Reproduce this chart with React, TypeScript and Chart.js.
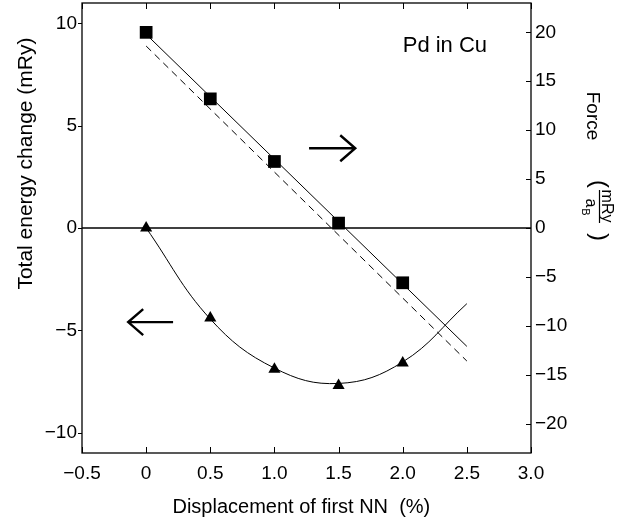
import React, { useEffect, useRef } from 'react';
import { Chart, registerables } from 'chart.js';

Chart.register(...registerables);

// ---- data ----
const displacement = [0, 0.5, 1.0, 1.5, 2.0];
const energy = [0, -4.4, -6.9, -7.7, -6.6];
const force = [20.0, 13.2, 6.8, 0.5, -5.6];

const energyCurveX = [0, 0.5, 1.0, 1.5, 2.0, 2.5];
const energyCurveY = [0, -4.45, -6.85, -7.6, -6.55, -3.7];

const forceFitX = [0, 2.5];
const forceFitSolid = [19.8, -12.1];
const forceFitDashed = [18.6, -13.6];

const xTicks = [-0.5, 0, 0.5, 1.0, 1.5, 2.0, 2.5, 3.0];
const energyTicks = [-10, -5, 0, 5, 10];
const forceTicks = [-20, -15, -10, -5, 0, 5, 10, 15, 20];

const xRange = [-0.5, 3.0];
const energyRange = [-11, 11];
const forceRange = [-23, 23];

// annotation anchors in data units (x, x, energy)
const arrowRight = [1.27, 1.63, 3.9];
const arrowLeft = [0.21, -0.14, -4.6];
const annotationText = 'Pd in Cu';
const annotationPos = [2.0, 8.9];

const xTitle = 'Displacement of first NN  (%)';
const yTitle = 'Total energy change (mRy)';
const yTitleCenter = 3.15; // energy value at the title's centre

const FONT = '"Liberation Sans", Arial, Helvetica, sans-serif';

const fmt = (v: number, dec: boolean) => {
  const s = v === 0 ? '0' : dec ? v.toFixed(1) : String(v);
  return s.replace('-', '\u2212');
};

const pts = (xs: number[], ys: number[]) => xs.map((x, i) => ({ x, y: ys[i] }));

const framePlugin = {
  id: 'frame',
  beforeDatasetsDraw(chart: any) {
    const { ctx, chartArea, scales } = chart;
    const { left, right, top, bottom } = chartArea;
    ctx.save();
    ctx.strokeStyle = '#000';
    ctx.lineWidth = 1.3;
    ctx.strokeRect(left, top, right - left, bottom - top);
    ctx.lineWidth = 1;
    ctx.beginPath();
    for (const v of xTicks) {
      const px = Math.round(scales.x.getPixelForValue(v)) + 0.5;
      ctx.moveTo(px, bottom);
      ctx.lineTo(px, bottom - 6);
      ctx.moveTo(px, top);
      ctx.lineTo(px, top + 6);
    }
    for (const v of energyTicks) {
      const py = Math.round(scales.y.getPixelForValue(v)) + 0.5;
      ctx.moveTo(left - 4, py);
      ctx.lineTo(left, py);
    }
    for (const v of forceTicks) {
      const py = Math.round(scales.y1.getPixelForValue(v)) + 0.5;
      ctx.moveTo(right - 5, py);
      ctx.lineTo(right, py);
    }
    ctx.stroke();
    // zero line
    const p0 = scales.y.getPixelForValue(0);
    ctx.lineWidth = 1.5;
    ctx.beginPath();
    ctx.moveTo(left, p0);
    ctx.lineTo(right, p0);
    ctx.stroke();
    ctx.restore();
  },
  afterDatasetsDraw(chart: any) {
    const { ctx, scales, chartArea } = chart;
    const x = scales.x;
    const y = scales.y;
    ctx.save();
    ctx.strokeStyle = '#000';
    ctx.fillStyle = '#000';
    ctx.lineWidth = 2.4;
    ctx.lineCap = 'butt';
    const drawArrow = (a: number[]) => {
      const x1 = x.getPixelForValue(a[0]);
      const x2 = x.getPixelForValue(a[1]);
      const py = y.getPixelForValue(a[2]);
      const dir = x2 > x1 ? 1 : -1;
      ctx.beginPath();
      ctx.moveTo(x1, py);
      ctx.lineTo(x2, py);
      ctx.moveTo(x2 - dir * 15, py - 13);
      ctx.lineTo(x2, py);
      ctx.lineTo(x2 - dir * 15, py + 13);
      ctx.stroke();
    };
    drawArrow(arrowRight);
    drawArrow(arrowLeft);

    ctx.font = `22px ${FONT}`;
    ctx.textAlign = 'left';
    ctx.textBaseline = 'middle';
    ctx.fillText(annotationText, x.getPixelForValue(annotationPos[0]), y.getPixelForValue(annotationPos[1]));

    const rot = (t: string, cx: number, cy: number, size: number, ang: number) => {
      ctx.save();
      ctx.translate(cx, cy);
      ctx.rotate(ang);
      ctx.font = `${size}px ${FONT}`;
      ctx.textAlign = 'center';
      ctx.textBaseline = 'middle';
      ctx.fillText(t, 0, 0);
      ctx.restore();
    };
    // left axis title
    rot(yTitle, chartArea.left - 56, y.getPixelForValue(yTitleCenter), 21, -Math.PI / 2);
    // x axis title
    ctx.font = `20px ${FONT}`;
    ctx.textAlign = 'center';
    ctx.textBaseline = 'middle';
    ctx.fillText(xTitle, x.getPixelForValue(1.21), chartArea.bottom + 54);

    // right axis title, rotated clockwise
    const ax = chartArea.right;
    const cw = Math.PI / 2;
    rot('Force', ax + 61, 116, 19, cw);
    rot('(', ax + 68, 184, 24, cw);
    rot(')', ax + 68, 237, 24, cw);
    rot('mRy', ax + 75, 206, 16, cw);
    rot('a', ax + 59, 203, 16, cw);
    rot('B', ax + 54, 212, 11, cw);
    ctx.lineWidth = 1.2;
    ctx.beginPath();
    ctx.moveTo(ax + 68.5, 190);
    ctx.lineTo(ax + 68.5, 223);
    ctx.stroke();
    ctx.restore();
  },
};

export default function App() {
  const ref = useRef<HTMLCanvasElement | null>(null);
  useEffect(() => {
    document.body.style.margin = '0';
    const canvas = ref.current!;
    const tickFont = { family: FONT, size: 19 };
    const chart = new Chart(canvas, {
      type: 'line',
      data: {
        datasets: [
          {
            label: 'energy points',
            data: pts(displacement, energy),
            yAxisID: 'y',
            showLine: false,
            pointStyle: 'triangle',
            pointRadius: 7,
            pointBackgroundColor: '#000',
            pointBorderColor: '#000',
            pointBorderWidth: 0,
          },
          {
            label: 'force points',
            data: pts(displacement, force),
            yAxisID: 'y1',
            showLine: false,
            pointStyle: 'rect',
            pointRadius: 9,
            pointBackgroundColor: '#000',
            pointBorderColor: '#000',
            pointBorderWidth: 0,
          },
          {
            label: 'energy fit',
            data: pts(energyCurveX, energyCurveY),
            yAxisID: 'y',
            borderColor: '#000',
            borderWidth: 1,
            pointRadius: 0,
            tension: 0.4,
            fill: false,
          },
          {
            label: 'force fit',
            data: pts(forceFitX, forceFitSolid),
            yAxisID: 'y1',
            borderColor: '#000',
            borderWidth: 1,
            pointRadius: 0,
            fill: false,
          },
          {
            label: 'force fit 2',
            data: pts(forceFitX, forceFitDashed),
            yAxisID: 'y1',
            borderColor: '#000',
            borderWidth: 1,
            borderDash: [7, 5],
            pointRadius: 0,
            fill: false,
          },
        ],
      },
      options: {
        animation: false,
        responsive: false,
        devicePixelRatio: 1,
        layout: { autoPadding: false, padding: { top: 3, left: 0, right: 0, bottom: 0 } },
        plugins: { legend: { display: false }, tooltip: { enabled: false } },
        scales: {
          x: {
            type: 'linear',
            min: xRange[0],
            max: xRange[1],
            afterBuildTicks: (s: any) => {
              s.ticks = xTicks.map((v) => ({ value: v }));
            },
            afterFit: (s: any) => {
              s.height = 72;
              s.paddingLeft = 0;
              s.paddingRight = 0;
            },
            grid: { display: false, drawTicks: false },
            border: { display: false },
            ticks: {
              font: tickFont,
              color: '#000',
              padding: 9,
              maxRotation: 0,
              autoSkip: false,
              callback: (v: any) => fmt(Number(v), true),
            },
          },
          y: {
            type: 'linear',
            position: 'left',
            min: energyRange[0],
            max: energyRange[1],
            afterBuildTicks: (s: any) => {
              s.ticks = energyTicks.map((v) => ({ value: v }));
            },
            afterFit: (s: any) => {
              s.width = 82;
              s.paddingTop = 0;
              s.paddingBottom = 0;
            },
            grid: { display: false, drawTicks: false },
            border: { display: false },
            ticks: {
              font: tickFont,
              color: '#000',
              padding: 5,
              callback: (v: any) => fmt(Number(v), false),
            },
          },
          y1: {
            type: 'linear',
            position: 'right',
            min: forceRange[0],
            max: forceRange[1],
            afterBuildTicks: (s: any) => {
              s.ticks = forceTicks.map((v) => ({ value: v }));
            },
            afterFit: (s: any) => {
              s.width = 104;
              s.paddingTop = 0;
              s.paddingBottom = 0;
            },
            grid: { display: false, drawTicks: false },
            border: { display: false },
            ticks: {
              font: tickFont,
              color: '#000',
              padding: 4,
              callback: (v: any) => fmt(Number(v), false),
            },
          },
        },
      },
      plugins: [framePlugin],
    } as any);
    return () => chart.destroy();
  }, []);
  return (
    <div style={{ width: 635, height: 525 }}>
      <canvas ref={ref} width={635} height={525} style={{ display: 'block' }} />
    </div>
  );
}
